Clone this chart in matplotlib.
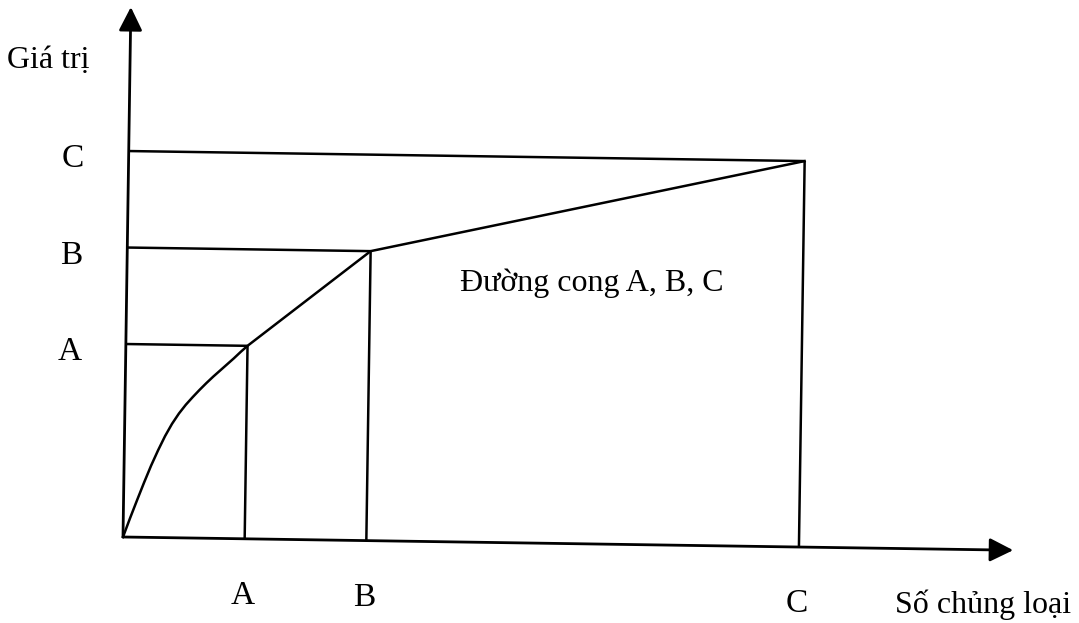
import matplotlib
matplotlib.use("Agg")
import matplotlib.pyplot as plt
from matplotlib.transforms import Affine2D

plt.rcParams['font.family'] = ['Liberation Serif', 'DejaVu Serif']

# ---- data ----
classes = ['A', 'B', 'C']
share_items = [18, 36, 100]      # x position of class boundaries (Số chủng loại)
share_value = [50, 75, 100]      # y position of class boundaries (Giá trị)
head_x = [0, 1, 2, 3, 4, 5, 6, 7, 8, 9, 10, 11, 12, 13, 14, 15, 16, 17, 18]   # concave start of the curve
head_y = [0, 4.9, 9.6, 14.2, 18.6, 22.6, 26.3, 29.5, 32.2, 34.5, 36.5, 38.4,
          40.2, 41.9, 43.5, 45.1, 46.7, 48.4, 50]
x_axis_end = 131.7
y_axis_end = 137.3
x_title = 'Số chủng loại'
y_title = 'Giá trị'
curve_label = 'Đường cong A, B, C'

curve_x = head_x + share_items[1:]
curve_y = head_y + share_value[1:]

W, H, DPI = 1079, 623, 100
fig = plt.figure(figsize=(W / DPI, H / DPI), dpi=DPI)
ax = fig.add_axes([0, 0, 1, 1])
ax.set_axis_off()

ox, oy = 123, H - 537          # origin in display pixels
sx, sy = 6.76, 3.86            # pixels per data unit
ax.set_xlim(-ox / sx, (W - ox) / sx)
ax.set_ylim(-oy / sy, (H - oy) / sy)

# slight scan tilt
rot = Affine2D().rotate_deg_around(ox, oy, -0.85)
tr = ax.transData + rot

LW_AX = 2.0
LW = 1.8
col = 'black'

# axes with arrowheads
arrow = dict(arrowstyle='-|>,head_length=0.8,head_width=0.4', mutation_scale=18,
             lw=LW_AX, color=col, shrinkA=0, shrinkB=0)
ax.annotate('', xy=(0, y_axis_end), xytext=(0, 0), xycoords=tr, textcoords=tr,
            arrowprops=arrow)
ax.annotate('', xy=(x_axis_end, 0), xytext=(0, 0), xycoords=tr, textcoords=tr,
            arrowprops=arrow)

# guide lines
for xv, yv in zip(share_items, share_value):
    ax.plot([0, xv], [yv, yv], color=col, lw=LW, transform=tr, solid_capstyle='butt')
    ax.plot([xv, xv], [0, yv], color=col, lw=LW, transform=tr, solid_capstyle='butt')

# ABC curve
ax.plot(curve_x, curve_y, color=col, lw=LW, transform=tr, solid_joinstyle='round')

FS = 23
FS_L = 24
# y labels
for lab, yv in zip(classes, share_value):
    ax.annotate(lab, xy=(0, yv), xycoords=tr, xytext=(-56, -16),
                textcoords='offset pixels', ha='center', va='baseline', fontsize=FS_L)
# x labels
for lab, xv in zip(classes, share_items):
    ax.annotate(lab, xy=(xv, 0), xycoords=tr, xytext=(-2, -65),
                textcoords='offset pixels', ha='center', va='baseline', fontsize=FS_L)

ax.annotate(x_title, xy=(x_axis_end, 0), xycoords=tr, xytext=(-118, -63),
            textcoords='offset pixels', ha='left', va='baseline', fontsize=FS)
ax.annotate(y_title, xy=(0, y_axis_end), xycoords=tr, xytext=(-124, -61),
            textcoords='offset pixels', ha='left', va='baseline', fontsize=FS)
ax.annotate(curve_label, xy=(share_items[1], share_value[1]), xycoords=tr,
            xytext=(89, -40), textcoords='offset pixels', ha='left', va='baseline',
            fontsize=FS)

fig.savefig('out.png', dpi=DPI, facecolor='white')
